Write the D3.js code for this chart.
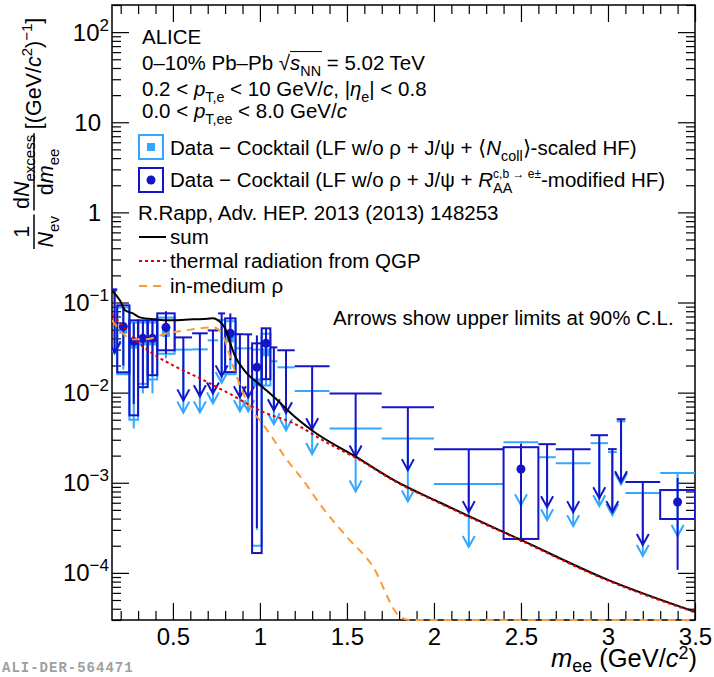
<!DOCTYPE html>
<html>
<head>
<meta charset="utf-8">
<script src="https://cdn.jsdelivr.net/npm/d3@7"></script>
<style>
  body { margin: 0; background: #fff; }
  svg text { font-family: "Liberation Sans", Arial, Helvetica, sans-serif; white-space: pre; fill: #000; }
</style>
</head>
<body>
<div id="chart"></div>
<script>
// Dielectron excess spectrum, 0-10% Pb-Pb at 5.02 TeV

const W = 714, H = 677;
const frame = {left: 112, right: 695, top: 5, bottom: 620};

// invariant-mass bins (GeV/c^2)
const binLo = [0.15, 0.18, 0.25, 0.30, 0.355, 0.41, 0.51, 0.61, 0.70, 0.76, 0.80, 0.86, 0.91, 0.955, 1.01,
               1.06, 1.10, 1.20, 1.40, 1.70, 2.00, 2.40, 2.60, 2.70, 2.90, 3.00, 3.05, 3.10, 3.30];
const binHi = [0.18, 0.25, 0.30, 0.355, 0.41, 0.51, 0.61, 0.70, 0.76, 0.80, 0.86, 0.91, 0.955, 1.01, 1.06,
               1.10, 1.20, 1.40, 1.70, 2.00, 2.40, 2.60, 2.70, 2.90, 3.00, 3.05, 3.10, 3.30, 3.50];

// Data - cocktail with R_AA-modified HF (value, or 90% C.L. upper limit where flagged)
const rmodValue  = [0.14, 0.054, 0.037, 0.040, 0.040, 0.053, 0.041, 0.0455, 0.049, 0.0757, 0.0455, 0.0445, 0.0443, 0.0191, 0.0352,
                    0.0318, 0.0295, 0.0196, 0.0098, 0.0069, 0.00236, 0.00142, 0.00268, 0.00236, 0.00337, 0.00236, 0.00507, 0.00102, 0.000611];
const rmodLimit  = [1, 0, 0, 0, 0, 0, 1, 1, 1, 1, 0, 1, 1, 0, 0, 1, 1, 1, 1, 1, 1, 0, 1, 1, 1, 1, 1, 1, 0];
const rmodStatLo = [null, 0.020, 0.0075, 0.012, 0.016, 0.027, null, null, null, null, 0.0229, null, null, 0.000315, 0.0138,
                    null, null, null, null, null, null, 0.00022, null, null, null, null, null, null, 0.000108];
const rmodStatHi = [null, 0.088, 0.060, 0.062, 0.062, 0.080, null, null, null, null, 0.0757, null, null, 0.0432, 0.0517,
                    null, null, null, null, null, null, 0.00268, null, null, null, null, null, null, 0.00113];
const rmodSysLo  = [null, 0.0168, 0.0056, 0.0115, 0.0156, 0.0295, null, null, null, null, 0.0169, null, null, 0.000166, 0.0141,
                    null, null, null, null, null, null, 0.000238, null, null, null, null, null, null, 0.000396];
const rmodSysHi  = [null, 0.093, 0.0634, 0.0634, 0.0634, 0.0758, null, null, null, null, 0.0667, null, null, 0.0352, 0.0517,
                    null, null, null, null, null, null, 0.00248, null, null, null, null, null, null, 0.00083];

// Data - cocktail with <Ncoll>-scaled HF
const ncollValue  = [0.135, 0.050, 0.034, 0.037, 0.037, 0.046, 0.030, 0.0302, 0.038, 0.064, 0.040, 0.031, 0.031, 0.013, 0.028,
                     0.0223, 0.0191, 0.0104, 0.0040, 0.0031, 0.00097, 0.00282, 0.00192, 0.00165, 0.00275, 0.00219, 0.0048, 0.00077, 0.00128];
const ncollLimit  = [1, 0, 0, 0, 0, 0, 1, 1, 1, 1, 0, 1, 1, 0, 0, 1, 1, 1, 1, 1, 1, 1, 1, 1, 1, 1, 1, 1, 1];
const ncollStatLo = [null, 0.018, 0.004, 0.0098, 0.0098, 0.024, null, null, null, null, 0.018, null, null, 0.0003, 0.012,
                     null, null, null, null, null, null, null, null, null, null, null, null, null, null];
const ncollStatHi = [null, 0.085, 0.058, 0.060, 0.060, 0.072, null, null, null, null, 0.068, null, null, 0.035, 0.046,
                     null, null, null, null, null, null, null, null, null, null, null, null, null, null];
const ncollSysLo  = [null, 0.016, 0.005, 0.0125, 0.014, 0.027, null, null, null, null, 0.016, null, null, 0.0002, 0.012,
                     null, null, null, null, null, null, null, null, null, null, null, null, null, null];
const ncollSysHi  = [null, 0.088, 0.060, 0.060, 0.060, 0.068, null, null, null, null, 0.062, null, null, 0.030, 0.045,
                     null, null, null, null, null, null, null, null, null, null, null, null, null, null];

// R. Rapp model curves
const sumMass = [0.15, 0.196, 0.225, 0.27, 0.31, 0.40, 0.47, 0.55, 0.62, 0.70, 0.73, 0.76, 0.80, 0.83, 0.86, 0.91,
                 1.01, 1.12, 1.17, 1.30, 1.56, 1.77, 2.04, 2.50, 3.00, 3.50];
const sumYield = [0.136, 0.105, 0.082, 0.0757, 0.0684, 0.065, 0.0634, 0.064, 0.065, 0.066, 0.0667, 0.0634, 0.0517, 0.0352, 0.0247, 0.0177,
                  0.0118, 0.0076, 0.0061, 0.0038, 0.0019, 0.00107, 0.000596, 0.000232, 0.0000836, 0.000037];
const qgpMass = [0.15, 0.225, 0.30, 0.40, 0.50, 0.655, 0.83, 1.01, 1.19, 1.39, 1.575, 1.77, 2.04, 2.50, 3.00, 3.50];
const qgpYield = [0.0738, 0.0517, 0.0361, 0.0259, 0.0201, 0.0144, 0.0096, 0.0062, 0.0046, 0.00275, 0.00178, 0.00105,
                  0.000585, 0.000228, 0.000082, 0.0000365];
const rhoMass = [0.15, 0.207, 0.265, 0.34, 0.466, 0.60, 0.656, 0.736, 0.782, 0.84, 0.897, 0.943, 1.012, 1.07, 1.144,
                 1.248, 1.35, 1.50, 1.644, 1.805, 1.86, 2.0, 2.5, 3.0, 3.5];
const rhoYield = [0.0634, 0.0466, 0.039, 0.039, 0.0455, 0.050, 0.0517, 0.053, 0.0455, 0.0211, 0.0106, 0.0069, 0.0046, 0.0032, 0.00192,
                  0.00107, 0.00056, 0.00025, 0.000122, 0.0000326, 0.00002, 0.000001, 0.000001, 0.000001, 0.000001];

const xMajor = [0.5, 1, 1.5, 2, 2.5, 3, 3.5];
const yMajor = [1e-4, 1e-3, 1e-2, 1e-1, 1, 10, 100];
const yLabelExp = [-4, -3, -2, -1, null, null, 2];   // null -> plain number
const yLabelText = ["10", "10", "10", "10", "1", "10", "10"];

const darkBlue = "#1414c8", lightBlue = "#33a6ff";
const arrowFactor = 0.2;   // limit arrows reach down to 20% of the limit

const svg = d3.select("#chart").append("svg").attr("width", W).attr("height", H);
svg.append("rect").attr("width", W).attr("height", H).attr("fill", "#fff");

svg.append("clipPath").attr("id", "frameClip").append("rect")
  .attr("x", frame.left).attr("y", frame.top)
  .attr("width", frame.right - frame.left).attr("height", frame.bottom - frame.top + 2);

const x = d3.scaleLinear().domain([0.15, 3.5]).range([frame.left, frame.right]);
const y = d3.scaleLog().domain([3e-5, 200]).range([frame.bottom, frame.top]).clamp(true);

// text with italics, sub- and superscripts laid out piece by piece
function rich(parent, x0, y0, parts, fs, opt) {
  opt = opt || {};
  const subOff = opt.sub != null ? opt.sub : 0.3, supOff = opt.sup != null ? opt.sup : 0.42;
  const g = parent.append("g");
  let cx = x0, barStart = null, barEnd = null;
  const ss = fs * 0.7;
  parts.forEach(p => {
    if (typeof p === "string") p = {t: p};
    let w = 0;
    if (p.sub != null || p.sup != null) {
      if (p.sup != null) {
        const t = g.append("text").attr("x", cx).attr("y", y0 - fs * supOff).style("font-size", (p.ss || ss) + "px").text(p.sup);
        w = Math.max(w, t.node().getComputedTextLength());
      }
      if (p.sub != null) {
        const t = g.append("text").attr("x", cx).attr("y", y0 + fs * subOff).style("font-size", ss + "px").text(p.sub);
        w = Math.max(w, t.node().getComputedTextLength());
      }
    } else {
      const t = g.append("text").attr("x", cx).attr("y", y0).style("font-size", fs + "px").text(p.t);
      if (p.it) t.style("font-style", "italic");
      w = t.node().getComputedTextLength();
    }
    if (p.bar) { if (barStart == null) barStart = cx; barEnd = cx + w; }
    cx += w + (p.sp || 0);
  });
  if (barStart != null) {
    g.append("line").attr("x1", barStart).attr("x2", barEnd + 1)
      .attr("y1", y0 - fs * 0.9).attr("y2", y0 - fs * 0.9)
      .attr("stroke", "#000").attr("stroke-width", 1);
  }
  return {g: g, w: cx - x0};
}

// ---- axes and frame ----
const xMinor = d3.range(2, 35).filter(k => k % 5 !== 0).map(k => k / 10);
const yMinor = [];
for (let e = -5; e <= 2; e++) for (let m = 2; m <= 9; m++) {
  const v = m * Math.pow(10, e);
  if (v >= 3e-5 && v <= 200) yMinor.push(v);
}

function styleAxis(g) {
  g.select(".domain").remove();
  g.selectAll("line").attr("stroke", "#000").attr("stroke-width", 1.2);
}

svg.append("g").attr("transform", `translate(0,${frame.bottom})`)
  .call(d3.axisBottom(x).tickValues(xMajor).tickSize(-17).tickPadding(8).tickSizeOuter(0).tickFormat(d3.format("")))
  .call(styleAxis)
  .call(g => g.selectAll("text").attr("font-family", null).style("font-size", "24px").attr("fill", "#000"));
svg.append("g").attr("transform", `translate(0,${frame.bottom})`)
  .call(d3.axisBottom(x).tickValues(xMinor).tickSize(-9).tickFormat("")).call(styleAxis);
svg.append("g").attr("transform", `translate(0,${frame.top})`)
  .call(d3.axisTop(x).tickValues(xMajor).tickSize(-17).tickFormat("")).call(styleAxis);
svg.append("g").attr("transform", `translate(0,${frame.top})`)
  .call(d3.axisTop(x).tickValues(xMinor).tickSize(-9).tickFormat("")).call(styleAxis);

svg.append("g").attr("transform", `translate(${frame.left},0)`)
  .call(d3.axisLeft(y).tickValues(yMajor).tickSize(-17).tickFormat("")).call(styleAxis);
svg.append("g").attr("transform", `translate(${frame.left},0)`)
  .call(d3.axisLeft(y).tickValues(yMinor).tickSize(-9).tickFormat("")).call(styleAxis);
svg.append("g").attr("transform", `translate(${frame.right},0)`)
  .call(d3.axisRight(y).tickValues(yMajor).tickSize(-17).tickFormat("")).call(styleAxis);
svg.append("g").attr("transform", `translate(${frame.right},0)`)
  .call(d3.axisRight(y).tickValues(yMinor).tickSize(-9).tickFormat("")).call(styleAxis);

// y tick labels as powers of ten
yMajor.forEach((v, i) => {
  const t = svg.append("text").attr("text-anchor", "end").attr("y", y(v) + 8.5).style("font-size", "24px");
  t.append("tspan").text(yLabelText[i]);
  if (yLabelExp[i] != null) {
    t.attr("x", 109);
    t.append("tspan").attr("dy", -10).style("font-size", "17px")
      .text(yLabelExp[i] < 0 ? "\u2212" + (-yLabelExp[i]) : String(yLabelExp[i]));
  } else {
    t.attr("x", 101);
  }
});

svg.append("rect").attr("x", frame.left).attr("y", frame.top)
  .attr("width", frame.right - frame.left).attr("height", frame.bottom - frame.top)
  .attr("fill", "none").attr("stroke", "#000").attr("stroke-width", 1.5);

// ---- data points and limits ----
const plot = svg.append("g").attr("clip-path", "url(#frameClip)");

function drawSeries(vals, isLim, statLo, statHi, sysLo, sysHi, color, marker) {
  const g = plot.append("g").attr("stroke", color).attr("fill", "none").attr("stroke-width", 2);
  vals.forEach((v, i) => {
    const x0 = x(binLo[i]), x1 = x(binHi[i]), xc = x((binLo[i] + binHi[i]) / 2);
    if (isLim[i]) {
      const yTip = y(v * arrowFactor);
      g.append("line").attr("x1", x0).attr("x2", x1).attr("y1", y(v)).attr("y2", y(v));
      g.append("line").attr("x1", xc).attr("x2", xc).attr("y1", y(v)).attr("y2", yTip);
      g.append("path").attr("d", `M${xc - 6},${yTip - 11}L${xc},${yTip}L${xc + 6},${yTip - 11}`);
    } else {
      g.append("rect").attr("x", x0).attr("width", x1 - x0)
        .attr("y", y(sysHi[i])).attr("height", y(sysLo[i]) - y(sysHi[i]));
      g.append("line").attr("x1", xc).attr("x2", xc).attr("y1", y(statHi[i])).attr("y2", y(statLo[i]));
      if (marker === "square") {
        g.append("rect").attr("x", xc - 4).attr("y", y(v) - 4).attr("width", 8).attr("height", 8)
          .attr("fill", color).attr("stroke", "none");
      } else {
        g.append("circle").attr("cx", xc).attr("cy", y(v)).attr("r", 4.5).attr("fill", color).attr("stroke", "none");
      }
    }
  });
}

drawSeries(ncollValue, ncollLimit, ncollStatLo, ncollStatHi, ncollSysLo, ncollSysHi, lightBlue, "square");
drawSeries(rmodValue, rmodLimit, rmodStatLo, rmodStatHi, rmodSysLo, rmodSysHi, darkBlue, "circle");

// ---- model curves ----
const line = d3.line().x(d => x(d[0])).y(d => y(d[1])).curve(d3.curveMonotoneX);
plot.append("path").datum(d3.zip(rhoMass, rhoYield)).attr("d", line)
  .attr("fill", "none").attr("stroke", "#ff9933").attr("stroke-width", 2).attr("stroke-dasharray", "8,6");
plot.append("path").datum(d3.zip(sumMass, sumYield)).attr("d", line)
  .attr("fill", "none").attr("stroke", "#000").attr("stroke-width", 2);
plot.append("path").datum(d3.zip(qgpMass, qgpYield)).attr("d", line)
  .attr("fill", "none").attr("stroke", "#dd0000").attr("stroke-width", 2).attr("stroke-dasharray", "3,3");

// x title, right aligned to the frame
const xt = rich(svg, 0, 667, [{t: "m", it: 1}, {sub: "ee"}, " (GeV/", {t: "c", it: 1}, {sup: "2"}, ")"], 25.5,
  {sub: 0.2, sup: 0.3});
xt.g.attr("transform", `translate(${697 - xt.w},0)`);

// y title, rotated; local y runs along screen x
const yTitle = svg.append("g").attr("transform", "translate(0,249) rotate(-90)");
function frac(u, num, den, fs) {
  const n = rich(yTitle, 0, 29, num, fs), d = rich(yTitle, 0, 53, den, fs);
  const w = Math.max(n.w, d.w) + 3;
  n.g.attr("transform", `translate(${u + (w - n.w) / 2},0)`);
  d.g.attr("transform", `translate(${u + (w - d.w) / 2},0)`);
  yTitle.append("line").attr("x1", u).attr("x2", u + w).attr("y1", 34).attr("y2", 34)
    .attr("stroke", "#000").attr("stroke-width", 1.5);
  return w;
}
const tfs = 21.5;
let u = 0;
u += frac(u, ["1"], [{t: "N", it: 1}, {sub: "ev"}], tfs) + 4;
u += frac(u, ["d", {t: "N", it: 1}, {sub: "excess"}], ["d", {t: "m", it: 1}, {sub: "ee"}], tfs) + 4;
rich(yTitle, u, 41, ["[(GeV/", {t: "c", it: 1}, {sup: "2"}, ")", {sup: "\u22121"}, "]"], tfs);

// ---- header and legend ----
const fs = 20.5;
rich(svg, 142, 44, ["ALICE"], fs);
rich(svg, 142, 70, ["0\u201310% Pb\u2013Pb ", {t: "\u221A"}, {t: "s", it: 1, bar: 1}, {sub: "NN", bar: 1}, " = 5.02 TeV"], fs);
rich(svg, 142, 96, ["0.2 < ", {t: "p", it: 1}, {sub: "T,e"}, " < 10 GeV/", {t: "c", it: 1}, ", |", {t: "\u03B7", it: 1}, {sub: "e"}, "| < 0.8"], fs);
rich(svg, 142, 118, ["0.0 < ", {t: "p", it: 1}, {sub: "T,ee"}, " < 8.0 GeV/", {t: "c", it: 1}], fs);

const legend = svg.append("g");
legend.append("rect").attr("x", 139).attr("y", 135).attr("width", 24).attr("height", 24)
  .attr("fill", "none").attr("stroke", lightBlue).attr("stroke-width", 2);
legend.append("rect").attr("x", 147).attr("y", 143).attr("width", 8).attr("height", 8).attr("fill", lightBlue);
rich(legend, 170, 155, ["Data \u2212 Cocktail (LF w/o \u03C1 + J/\u03C8 + \u27E8", {t: "N", it: 1}, {sub: "coll"}, "\u27E9-scaled HF)"], fs);

legend.append("rect").attr("x", 139).attr("y", 168).attr("width", 24).attr("height", 24)
  .attr("fill", "none").attr("stroke", darkBlue).attr("stroke-width", 2);
legend.append("circle").attr("cx", 151).attr("cy", 180).attr("r", 4.5).attr("fill", darkBlue);
rich(legend, 170, 187, ["Data \u2212 Cocktail (LF w/o \u03C1 + J/\u03C8 + ", {t: "R", it: 1},
  {sub: "AA", sup: "c,b \u2192 e\u00B1", ss: 12}, "-modified HF)"], fs);

rich(legend, 138, 220, ["R.Rapp, Adv. HEP. 2013 (2013) 148253"], fs);

const curveKeys = [
  {label: "sum", color: "#000", dash: null, yy: 237},
  {label: "thermal radiation from QGP", color: "#dd0000", dash: "3,3", yy: 261},
  {label: "in-medium \u03C1", color: "#ff9933", dash: "8,6", yy: 286}
];
curveKeys.forEach(k => {
  legend.append("line").attr("x1", 139).attr("x2", 166).attr("y1", k.yy).attr("y2", k.yy)
    .attr("stroke", k.color).attr("stroke-width", 2).attr("stroke-dasharray", k.dash);
  rich(legend, 170, k.yy + 7, [k.label], fs);
});

rich(svg, 333, 325, ["Arrows show upper limits at 90% C.L."], fs);

svg.append("text").attr("x", 2).attr("y", 672)
  .style("font-family", "'Liberation Mono', 'DejaVu Sans Mono', monospace").style("font-weight", "bold")
  .style("font-size", "14px").style("letter-spacing", "1px").style("fill", "#a0a0a0")
  .text("ALI-DER-564471");
</script>
</body>
</html>
